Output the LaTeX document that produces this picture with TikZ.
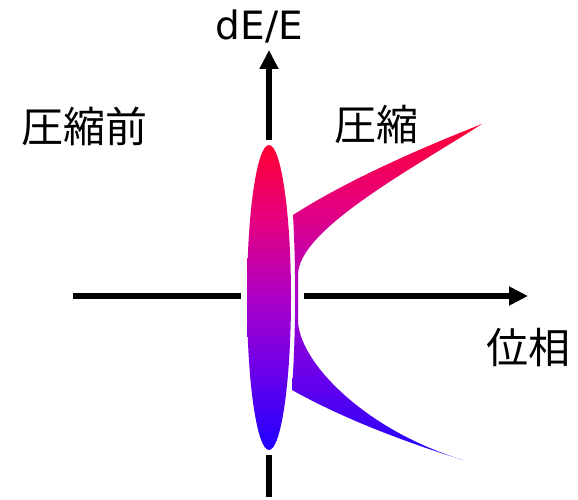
\documentclass[tikz,border=0pt]{standalone}
\usepackage{fontspec}
\usetikzlibrary{arrows.meta,shapes.geometric}
\newfontfamily\jpfont{Noto Sans CJK JP}
\newfontfamily\dvfont{DejaVu Sans}
\definecolor{topred}{RGB}{255,0,51}
\definecolor{cA}{RGB}{228,0,128}
\definecolor{cB}{RGB}{172,0,200}
\definecolor{cC}{RGB}{105,0,235}
\definecolor{botblue}{RGB}{30,0,255}
\pgfdeclareverticalshading{beamshade}{100bp}{color(0bp)=(botblue); color(25bp)=(botblue); color(37.5bp)=(cC); color(50bp)=(cB); color(62.5bp)=(cA); color(75bp)=(topred); color(100bp)=(topred)}
\tikzset{
  axisline/.style={line width=6pt, black},
  axisarrow/.style={axisline, -{Triangle[length=19pt,width=18pt]}},
  jplabel/.style={font=\jpfont\fontsize{42}{48}\selectfont, inner sep=0pt, text=black},
  beam/.style={shading=beamshade, draw=none}
}
\begin{document}
\begin{tikzpicture}[x=1pt,y=-1pt]
\useasboundingbox (0,0) rectangle (578,500);
% axis coordinates
\coordinate (hl0) at (73,296);
\coordinate (hl1) at (241,296);
\coordinate (hr0) at (304,296);
\coordinate (hr1) at (528,296);
\coordinate (vt0) at (269,140);
\coordinate (vt1) at (269,50);
\coordinate (vb0) at (269,455);
\coordinate (vb1) at (269,497);
\draw[axisline] (hl0) -- (hl1);
\draw[axisarrow] (hr0) -- (hr1);
\draw[axisarrow] (vt0) -- (vt1);
\draw[axisline] (vb0) -- (vb1);
% beam before compression
\node[ellipse, beam, minimum width=44pt, minimum height=305pt, inner sep=0pt] (beam0) at (269,297.5) {};
% compressed beam
\path[beam]
  (293,215) .. controls (337.7,186.3) and (400.7,156) .. (482,124)
  .. controls (410,170) and (298,230) .. (298,275)
  -- (298,320)
  .. controls (298,360) and (362,429) .. (463,460)
  .. controls (394.3,438.7) and (337.3,415.3) .. (292,390)
  .. controls (296,330) and (296,270) .. (293,215) -- cycle;
% labels
\node[font=\dvfont\fontsize{39}{44}\selectfont, inner sep=0pt, anchor=base] (ylab) at (259.5,40) {dE/E};
\node[jplabel] (before) at (84.5,126) {圧縮前};
\node[jplabel] (after) at (376,124) {圧縮};
\node[jplabel] (xlab) at (528.5,348) {位相};
\end{tikzpicture}
\end{document}
